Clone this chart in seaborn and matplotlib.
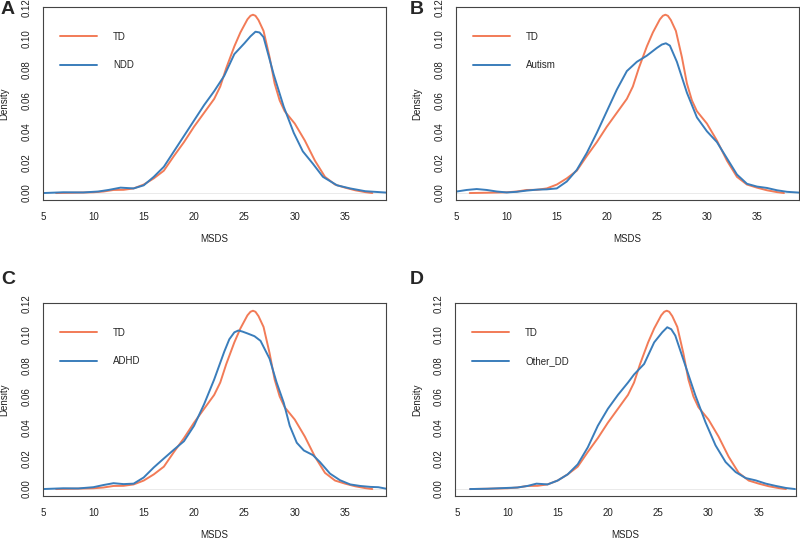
import matplotlib
matplotlib.use("Agg")
import pandas as pd
import matplotlib.pyplot as plt
import seaborn as sns

# TD reference curve (same in all four panels)
td_x = [6.3, 8, 10, 11, 12, 13, 14, 15, 16, 17, 18, 19, 20, 21, 22, 22.6, 23.2, 24, 24.6,
        25.3, 25.6, 25.85, 26.1, 26.4, 26.9, 27.5, 28, 28.5, 29, 30, 31, 32, 33, 34, 35, 36,
        37, 37.7]
td_y = [0.0, 0.0002, 0.0005, 0.001, 0.002, 0.0021, 0.003, 0.0055, 0.0095, 0.0145, 0.024,
        0.033, 0.043, 0.052, 0.061, 0.069, 0.081, 0.095, 0.104, 0.1125, 0.1148, 0.1155,
        0.1148, 0.112, 0.105, 0.088, 0.071, 0.06, 0.053, 0.045, 0.034, 0.021, 0.0105,
        0.0055, 0.0035, 0.0018, 0.0006, 0.0]

ndd_x = [5, 7, 9, 10.5, 11.5, 12.7, 14, 15, 16, 17, 18, 19, 20, 21, 22, 23, 24, 25, 25.6,
         26.1, 26.5, 26.9, 27.9, 28.9, 29.9, 30.8, 31.8, 32.8, 34.2, 35.5, 37, 39.1]
ndd_y = [0.0, 0.0005, 0.0004, 0.001, 0.002, 0.0035, 0.003, 0.005, 0.0105, 0.017, 0.027,
         0.037, 0.047, 0.057, 0.066, 0.076, 0.09, 0.097, 0.1015, 0.1045, 0.104, 0.101,
         0.077, 0.056, 0.039, 0.027, 0.019, 0.0105, 0.005, 0.003, 0.0012, 0.0003]

autism_x = [5, 6, 7, 8, 9, 10, 11, 12, 13, 14, 15, 16, 17, 18, 19, 20, 21, 22, 23, 24, 25,
            25.5, 25.9, 26.3, 27, 28, 29, 30, 31, 32, 33, 34, 35, 36, 37, 38, 39.2]
autism_y = [0.001, 0.002, 0.0026, 0.002, 0.001, 0.0004, 0.0008, 0.0016, 0.0022, 0.0024,
            0.003, 0.0075, 0.015, 0.026, 0.039, 0.053, 0.067, 0.079, 0.085, 0.089, 0.094,
            0.0962, 0.097, 0.0955, 0.085, 0.065, 0.049, 0.04, 0.033, 0.0225, 0.012, 0.006,
            0.0042, 0.0033, 0.0018, 0.0008, 0.0003]

adhd_x = [5, 7, 8.5, 10, 11, 12, 13, 14, 15, 16, 17, 18, 19, 20, 21, 22, 23, 23.5, 24.0,
          24.4, 24.8, 25.3, 26, 26.6, 27.5, 28.2, 28.9, 29.5, 30.2, 30.9, 31.8, 32.5, 33.5,
          34.5, 35.5, 36.5, 37.5, 38.3, 39.1]
adhd_y = [0.0, 0.0005, 0.0004, 0.0012, 0.0026, 0.0038, 0.0032, 0.0035, 0.0075, 0.014,
          0.0198, 0.0255, 0.031, 0.041, 0.055, 0.071, 0.089, 0.097, 0.1015, 0.1027, 0.102,
          0.1008, 0.099, 0.096, 0.0844, 0.069, 0.056, 0.041, 0.03, 0.025, 0.022, 0.0175,
          0.01, 0.0057, 0.003, 0.002, 0.0014, 0.0012, 0.0002]

other_x = [6.3, 8, 9.5, 11, 12, 12.9, 14, 15, 16, 17, 18, 19, 20, 21, 22, 22.6, 23.6, 24.6,
           25.4, 25.9, 26.3, 26.7, 27.7, 28.7, 29.7, 30.7, 31.7, 32.7, 33.7, 34.7, 35.7,
           36.7, 37.7, 38.6]
other_y = [0.0, 0.0002, 0.0006, 0.001, 0.002, 0.0035, 0.003, 0.0055, 0.0095, 0.016, 0.027,
           0.041, 0.052, 0.061, 0.069, 0.0742, 0.081, 0.095, 0.1015, 0.1048, 0.1035, 0.0994,
           0.08, 0.0606, 0.0433, 0.0283, 0.0175, 0.011, 0.0071, 0.0056, 0.0035, 0.002,
           0.0007, 0.0]

panels = [
    ("A", "NDD", ndd_x, ndd_y),
    ("B", "Autism", autism_x, autism_y),
    ("C", "ADHD", adhd_x, adhd_y),
    ("D", "Other_DD", other_x, other_y),
]

TD_COLOR = "#F27B57"
GROUP_COLOR = "#3A7DBB"

W, H = 800, 539
rects = [(43, 7, 386, 200), (456, 7, 799, 200), (43, 303, 386, 496), (455, 303, 796, 496)]
xlims = [(5, 39.06), (4.93, 39.2), (5, 39.06), (4.8, 38.7)]
letter_pos = [(1, 10), (410, 10), (1, 279), (410, 279)]

sns.set_style("white")
plt.rcParams["font.family"] = ["Liberation Sans", "DejaVu Sans"]

fig = plt.figure(figsize=(W / 100, H / 100), dpi=100)

for (letter, name, gx, gy), (l, t, r, b), xlim, (lx, ly) in zip(panels, rects, xlims, letter_pos):
    ax = fig.add_axes([l / W, 1 - b / H, (r - l) / W, (b - t) / H])
    df = pd.concat([
        pd.DataFrame({"MSDS": td_x, "Density": td_y, "group": "TD"}),
        pd.DataFrame({"MSDS": gx, "Density": gy, "group": name}),
    ], ignore_index=True)
    ax.axhline(0, color="#e6e6e6", lw=0.6, zorder=0)
    sns.lineplot(data=df, x="MSDS", y="Density", hue="group", hue_order=["TD", name],
                 palette={"TD": TD_COLOR, name: GROUP_COLOR}, linewidth=1.4, ax=ax)
    ax.set_xlim(*xlim)
    ax.set_ylim(-0.0045, 0.1205)
    ax.set_xticks([5, 10, 15, 20, 25, 30, 35])
    ax.set_yticks([0, 0.02, 0.04, 0.06, 0.08, 0.10, 0.12])
    ax.set_yticklabels([f"{v:.2f}" for v in ax.get_yticks()])
    ax.tick_params(axis="both", direction="out", length=5, width=0.8, color="#333333",
                   labelsize=7, colors="#222222")
    ax.tick_params(axis="x", pad=4)
    ax.tick_params(axis="y", pad=3, labelrotation=90)
    for lab in ax.get_yticklabels():
        lab.set_va("center")
    for sp in ax.spines.values():
        sp.set_color("#444444")
        sp.set_linewidth(0.8)
    ax.set_xlabel("MSDS", fontsize=7, color="#222222")
    ax.set_ylabel("Density", fontsize=7, color="#222222")
    ax.xaxis.set_label_coords(0.5, -0.175)
    ax.yaxis.set_label_coords(-0.097, 0.5)
    ax.legend(loc="center left", bbox_to_anchor=(0.049, 0.773), frameon=False,
              fontsize=7, handlelength=3.8, handletextpad=1.7, labelspacing=1.9,
              borderpad=0, borderaxespad=0)
    fig.text(lx / W, 1 - ly / H, letter, fontsize=14, fontweight="bold",
             ha="left", va="center")

fig.savefig("out.png", dpi=100)
